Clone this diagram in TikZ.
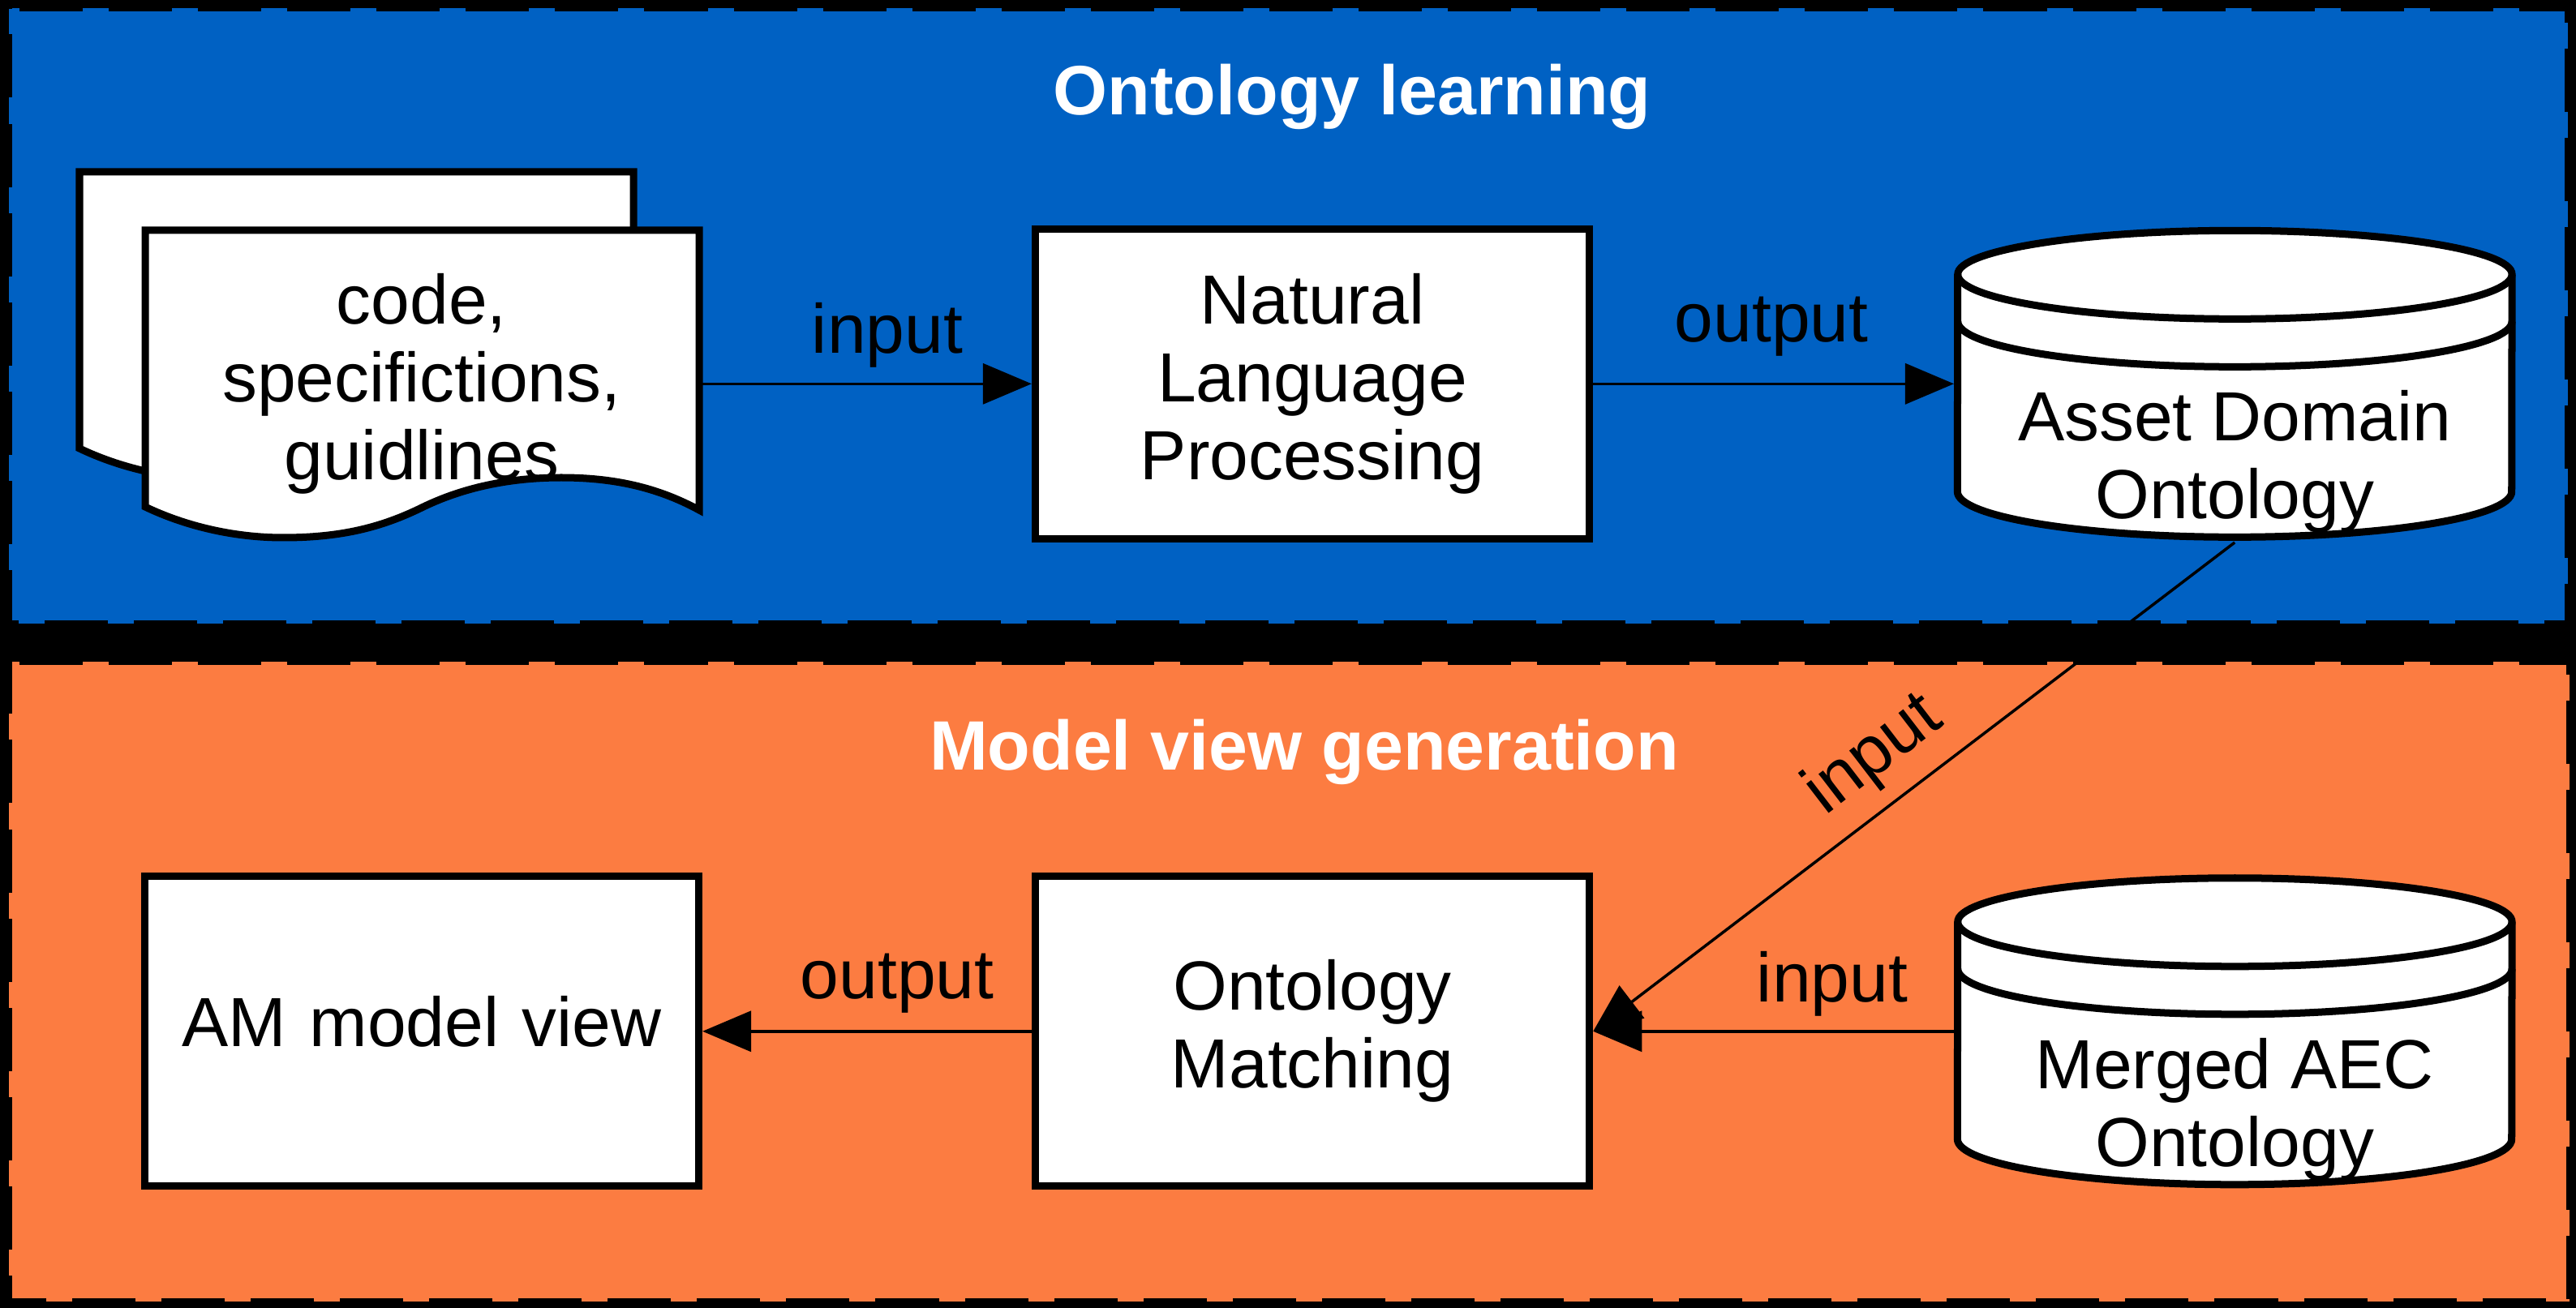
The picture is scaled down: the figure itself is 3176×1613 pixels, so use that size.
\documentclass[tikz,border=0pt]{standalone}
\usepackage{fontspec}
\setmainfont{Liberation Sans}
\usetikzlibrary{arrows.meta,matrix,backgrounds}

\definecolor{panelblue}{HTML}{0061C3}
\definecolor{panelorange}{HTML}{FC7C41}
\newcommand{\labelfont}{\fontsize{24.4}{27.3}\selectfont}
\newcommand{\titlefont}{\fontsize{24.5}{28}\selectfont\bfseries}

\tikzset{
  panel/.style={draw=black,line width=0.08cm,dash pattern=on 0.78cm off 0.32cm,dash phase=0.97cm},
  outline/.style={draw=black,line width=0.09cm,fill=white},
  ghost/.style={draw=none,fill=none},
  conn/.style={draw=black,line width=0.035cm,-{Triangle[length=0.6cm,width=0.5cm]}},
  txt/.style={font=\labelfont,align=center,inner sep=0pt},
  titletxt/.style={font=\titlefont,text=white,inner sep=0pt}
}

% one sheet, drawn around the top left corner of the sheet
\newcommand{\sheetshape}[1]{
\draw[outline,shift={(#1)}] (0,0)--(683,0)--(683,345)
  .. controls (630,316) and (575,305) .. (513,305)
  .. controls (450,305) and (392,317) .. (341,342)
  .. controls (290,367) and (240,379) .. (170,379)
  .. controls (110,379) and (50,365) .. (0,341)--cycle;
}

% drum, drawn around its centre
\newcommand{\storeshape}[1]{
\begin{scope}[shift={(#1)}]
\draw[outline] (-341.5,-135) arc[start angle=180,end angle=0,x radius=3.415cm,y radius=0.54cm]
  --(341.5,133) arc[start angle=0,end angle=-180,x radius=3.415cm,y radius=0.56cm]--cycle;
\draw[outline,fill=none] (-341.5,-135) arc[start angle=180,end angle=360,x radius=3.415cm,y radius=0.55cm];
\draw[outline,fill=none] (-341.5,-77) arc[start angle=180,end angle=360,x radius=3.415cm,y radius=0.56cm];
\end{scope}
}

\begin{document}
\begin{tikzpicture}[x=0.01cm,y=-0.01cm]
\useasboundingbox (0,0) rectangle (3176,1613);

\matrix (m) at (173,277) [matrix of nodes, anchor=north west, inner sep=0pt, column sep=4.055cm, row sep=4.07cm,
  nodes={outline,txt,anchor=center,text width=6.83cm,minimum height=3.82cm} ]{
|[ghost]| {code,\\specifictions,\\guidlines} & {Natural\\Language\\Processing} &[0.435cm] |[ghost]| \mbox{} \\
|[text depth=0.25cm]| {AM model view} & {Ontology\\Matching} & |[ghost]| \mbox{} \\
};

\begin{scope}[on background layer]
\fill[black] (0,0) rectangle (3176,1613);
\fill[panelblue] (11,10) rectangle (3166,769);
\draw[panel] (11,10)--(3166,10)--(3166,769)--(11,769)--cycle;
\fill[panelorange] (11,816) rectangle (3168,1605);
\draw[panel] (11,816)--(3168,816)--(3168,1605)--(11,1605)--cycle;
\sheetshape{98,212}
\sheetshape{179,284}
\storeshape{m-1-3.center}
\storeshape{m-2-3.center}
\end{scope}

\node[titletxt] (titleA) at (1667,119) {Ontology learning};
\node[titletxt] (titleB) at (1608,927) {Model view generation};

\node[txt] (textA) at ([yshift=-0.96cm]m-1-3.center) {Asset Domain\\Ontology};
\node[txt] (textB) at ([yshift=-0.96cm]m-2-3.center) {Merged AEC\\Ontology};

\draw[conn] (m-1-1.east)--(m-1-2.west);
\draw[conn] (m-1-2.east)--(m-1-3.west);
\draw[conn] (m-1-3.south)--(m-2-2.east);
\draw[conn] (m-2-3.west)--(m-2-2.east);
\draw[conn] (m-2-2.west)--(m-2-1.east);

\node[txt] (inputA) at (1094,413) {input};
\node[txt] (outputA) at (2184,403) {output};
\node[txt,rotate=37.5] (inputB) at (2311,932) {input};
\node[txt] (outputB) at (1106,1213) {output};
\node[txt] (inputC) at (2259,1213) {input};
\end{tikzpicture}
\end{document}
